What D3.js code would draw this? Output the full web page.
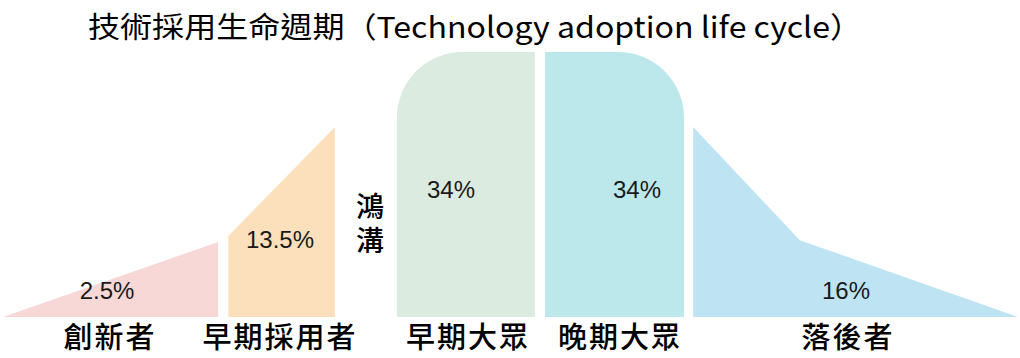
<!DOCTYPE html>
<html><head><meta charset="utf-8">
<script src="https://cdn.jsdelivr.net/npm/d3@7"></script>
<style>html,body{margin:0;padding:0;background:#fff;overflow:hidden}</style>
</head><body><svg id="c" width="1020" height="358"></svg>
<script>
// ---- data ----
const title = "技術採用生命週期（Technology adoption life cycle）";
const categories = ["創新者", "早期採用者", "早期大眾", "晚期大眾", "落後者"];
const shares = [2.5, 13.5, 34, 34, 16];
const shareLabels = ["2.5%", "13.5%", "34%", "34%", "16%"];
// segment x-extent in percent of the chart width
const segStart = [0, 22.2, 38.8, 53.4, 68.0];
const segEnd   = [21.2, 32.7, 52.4, 67.1, 100];
// outline heights (percent of full height) along each segment: [x, y]
const profiles = [
  [[0, 0], [21.2, 28.3], [21.2, 0]],
  [[22.2, 0], [22.2, 30.6], [32.7, 71.7], [32.7, 0]],
  [[38.8, 0], [38.8, 100], [52.4, 100], [52.4, 0]],
  [[53.4, 0], [53.4, 100], [67.1, 100], [67.1, 0]],
  [[68.0, 0], [68.0, 71.7], [78.5, 29.0], [100, 0]]
];
const roundCorner = ["", "", "left", "right", ""];
const chasmLabel = "鴻溝";
const colors = ["#F8D8D7", "#FCE0BC", "#DBEBDF", "#BDE8EB", "#BEE3F3"];

// ---- layout ----
const svg = d3.select("#c");
const x = d3.scaleLinear().domain([0, 100]).range([3, 1018]);
const y = d3.scaleLinear().domain([0, 100]).range([317, 52]);
const R = 66;

svg.append("text")
  .attr("x", 88).attr("y", 38)
  .attr("font-family", "'Noto Sans CJK TC', sans-serif")
  .attr("font-size", 29)
  .attr("textLength", 774).attr("lengthAdjust", "spacingAndGlyphs")
  .attr("fill", "#000")
  .text(title);

const line = d3.line().x(d => x(d[0])).y(d => y(d[1]));

profiles.forEach((p, i) => {
  let dstr;
  if (roundCorner[i] === "left") {
    const x0 = x(p[0][0]), x1 = x(p[2][0]), yb = y(0), yt = y(100);
    dstr = `M${x0},${yb}L${x0},${yt + R}A${R},${R} 0 0 1 ${x0 + R},${yt}L${x1},${yt}L${x1},${yb}Z`;
  } else if (roundCorner[i] === "right") {
    const x0 = x(p[0][0]), x1 = x(p[2][0]), yb = y(0), yt = y(100);
    dstr = `M${x0},${yb}L${x0},${yt}L${x1 - R},${yt}A${R},${R} 0 0 1 ${x1},${yt + R}L${x1},${yb}Z`;
  } else {
    dstr = line(p) + "Z";
  }
  svg.append("path").attr("d", dstr).attr("fill", colors[i]);
});

// share labels
const shareX = [107, 280, 451, 637, 846];
const shareY = [299, 248, 198, 198, 299];
shareLabels.forEach((s, i) => {
  svg.append("text")
    .attr("x", shareX[i]).attr("y", shareY[i])
    .attr("text-anchor", "middle")
    .attr("font-family", "'Liberation Sans', Arial, sans-serif")
    .attr("font-size", 24)
    .attr("fill", "#1a1a1a")
    .text(s);
});

// category labels
const catX = [110, 280, 468, 620, 848];
categories.forEach((c, i) => {
  svg.append("text")
    .attr("x", catX[i]).attr("y", 348)
    .attr("text-anchor", "middle")
    .attr("font-family", "'Noto Sans CJK TC', sans-serif")
    .attr("font-size", 29)
    .attr("font-weight", 500)
    .attr("letter-spacing", 2)
    .attr("fill", "#000")
    .text(c);
});

// chasm (vertical text)
svg.append("text")
  .attr("x", 370).attr("y", 192)
  .attr("writing-mode", "vertical-rl")
  .attr("font-family", "'Noto Sans CJK TC', sans-serif")
  .attr("font-size", 28)
  .attr("font-weight", 500)
  .attr("letter-spacing", 6)
  .attr("fill", "#000")
  .text(chasmLabel);
</script></body></html>
